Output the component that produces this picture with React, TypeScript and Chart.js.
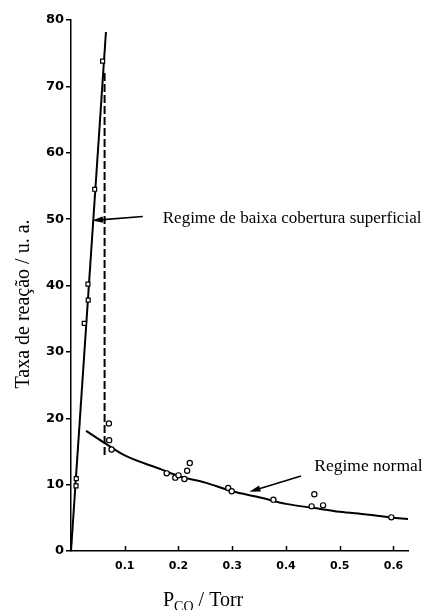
import React, { useEffect, useRef } from 'react';
import { Chart, registerables } from 'chart.js';

Chart.register(...registerables);

// ---- data ----
const xTickValues = [0.1, 0.2, 0.3, 0.4, 0.5, 0.6];
const yTickValues = [0, 10, 20, 30, 40, 50, 60, 70, 80];

// low-coverage regime (squares)
const squareX = [0.0093, 0.0098, 0.0247, 0.032, 0.0315, 0.044, 0.0588];
const squareY = [9.8, 10.9, 34.3, 37.8, 40.2, 54.5, 73.8];

// normal regime (circles)
const circleX = [0.0705, 0.071, 0.0755, 0.178, 0.194, 0.2, 0.211, 0.216, 0.221, 0.2925, 0.299, 0.3766, 0.4477, 0.4527, 0.469, 0.596];
const circleY = [19.2, 16.7, 15.3, 11.7, 11.05, 11.4, 10.85, 12.1, 13.25, 9.5, 9.0, 7.74, 6.73, 8.54, 6.88, 5.07];

// steep line through the squares
const steepX = [0, 0.065];
const steepY = [0, 78.2];

// dashed vertical transition line
const dashedX = [0.0625, 0.0625];
const dashedY = [72, 14.4];

// normal-regime fitted curve
const curveX = [0.028, 0.06, 0.1, 0.168, 0.2, 0.25, 0.3, 0.35, 0.4, 0.45, 0.5, 0.55, 0.6, 0.633];
const curveY = [18.1, 16.4, 14.4, 12.3, 11.3, 10.3, 9.0, 8.1, 7.1, 6.5, 5.9, 5.5, 5.0, 4.77];

// annotations
const labelTexts = ['Regime de baixa cobertura superficial', 'Regime normal'];
const labelX = [0.1707, 0.4527];
const labelY = [49.4, 12.05];
const arrowFromX = [0.1336, 0.428];
const arrowFromY = [50.4, 11.3];
const arrowToX = [0.039, 0.332];
const arrowToY = [49.8, 8.93];

const yTitle = 'Taxa de reação / u. a.';
const xTitleMain = 'P';
const xTitleSub = 'CO';
const xTitleRest = ' / Torr';

const zip = (xs: number[], ys: number[]) => xs.map((x, i) => ({ x, y: ys[i] }));

const SERIF = '"Liberation Serif", "Times New Roman", serif';
const SANS = '"DejaVu Sans", sans-serif';

function drawArrow(ctx: CanvasRenderingContext2D, x1: number, y1: number, x2: number, y2: number) {
  const ang = Math.atan2(y2 - y1, x2 - x1);
  const head = 11;
  const w = 3.2;
  const c = Math.cos(ang);
  const s = Math.sin(ang);
  ctx.beginPath();
  ctx.moveTo(x1, y1);
  ctx.lineTo(x2 - head * 0.7 * c, y2 - head * 0.7 * s);
  ctx.stroke();
  ctx.beginPath();
  ctx.moveTo(x2, y2);
  ctx.lineTo(x2 - head * c + w * s, y2 - head * s - w * c);
  ctx.lineTo(x2 - head * c - w * s, y2 - head * s + w * c);
  ctx.closePath();
  ctx.fill();
}

const overlayPlugin = {
  id: 'overlay',
  afterDraw(chart: any) {
    const { ctx, chartArea } = chart;
    const xs = chart.scales.x;
    const ys = chart.scales.y;
    ctx.save();
    ctx.strokeStyle = '#000';
    ctx.fillStyle = '#000';
    // inward x tick marks
    ctx.lineWidth = 1.5;
    for (const v of xTickValues) {
      const px = Math.round(xs.getPixelForValue(v)) + 0.5;
      ctx.beginPath();
      ctx.moveTo(px, chartArea.bottom);
      ctx.lineTo(px, chartArea.bottom - 5);
      ctx.stroke();
    }
    // arrows
    ctx.lineWidth = 1.6;
    for (let i = 0; i < arrowFromX.length; i++) {
      drawArrow(
        ctx,
        xs.getPixelForValue(arrowFromX[i]),
        ys.getPixelForValue(arrowFromY[i]),
        xs.getPixelForValue(arrowToX[i]),
        ys.getPixelForValue(arrowToY[i])
      );
    }
    // annotation labels
    const labelSizes = [17, 17.5];
    ctx.textAlign = 'left';
    ctx.textBaseline = 'alphabetic';
    for (let i = 0; i < labelTexts.length; i++) {
      ctx.font = `${labelSizes[i]}px ${SERIF}`;
      ctx.fillText(labelTexts[i], xs.getPixelForValue(labelX[i]), ys.getPixelForValue(labelY[i]));
    }
    // y title
    ctx.save();
    ctx.translate(28.5, (chartArea.top + chartArea.bottom) / 2 + 18.5);
    ctx.rotate(-Math.PI / 2);
    ctx.font = `20px ${SERIF}`;
    ctx.textAlign = 'center';
    ctx.fillText(yTitle, 0, 0);
    ctx.restore();
    // x title with subscript
    const baseY = 606;
    let cx = 163;
    ctx.textAlign = 'left';
    ctx.font = `20px ${SERIF}`;
    ctx.fillText(xTitleMain, cx, baseY);
    cx += ctx.measureText(xTitleMain).width;
    ctx.font = `14px ${SERIF}`;
    ctx.fillText(xTitleSub, cx, baseY + 5);
    cx += ctx.measureText(xTitleSub).width;
    ctx.font = `20px ${SERIF}`;
    ctx.fillText(xTitleRest, cx, baseY);
    ctx.restore();
  },
};

export default function App() {
  const ref = useRef<HTMLCanvasElement | null>(null);

  useEffect(() => {
    if (!ref.current) return;
    const markerCommon = {
      showLine: false,
      backgroundColor: '#fff',
      borderColor: '#000',
      borderWidth: 1.2,
      order: 0,
    };
    const lineCommon = {
      showLine: true,
      pointRadius: 0,
      borderColor: '#000',
      fill: false,
      order: 1,
    };
    const chart = new Chart(ref.current, {
      type: 'scatter',
      data: {
        datasets: [
          { ...markerCommon, label: 'squares', data: zip(squareX, squareY), pointStyle: 'rect', pointRadius: 2.8 },
          { ...markerCommon, label: 'circles', data: zip(circleX, circleY), pointStyle: 'circle', pointRadius: 2.6 },
          { ...lineCommon, label: 'steep', data: zip(steepX, steepY), borderWidth: 2 },
          { ...lineCommon, label: 'dashed', data: zip(dashedX, dashedY), borderWidth: 2, borderDash: [8, 3] },
          {
            ...lineCommon,
            label: 'curve',
            data: zip(curveX, curveY),
            borderWidth: 2,
            tension: 0.4,
            cubicInterpolationMode: 'monotone',
          },
        ],
      },
      options: {
        animation: false,
        responsive: false,
        events: [],
        layout: { padding: { top: 20, right: 19, left: 0, bottom: 0 } },
        plugins: { legend: { display: false }, tooltip: { enabled: false } },
        scales: {
          x: {
            type: 'linear',
            min: 0,
            max: 0.627,
            afterBuildTicks: (scale: any) => {
              scale.ticks = xTickValues.map((v) => ({ value: v }));
            },
            afterFit: (scale: any) => {
              scale.height = 59;
            },
            grid: { display: true, drawOnChartArea: false, drawTicks: false },
            border: { display: true, color: '#000', width: 1.5 },
            ticks: {
              color: '#000',
              padding: 9,
              font: { family: SANS, size: 11, weight: 'bold' },
              callback: (v: any) => String(v),
            },
          },
          y: {
            type: 'linear',
            min: 0,
            max: 80,
            afterBuildTicks: (scale: any) => {
              scale.ticks = yTickValues.map((v) => ({ value: v }));
            },
            afterFit: (scale: any) => {
              scale.width = 71;
            },
            grid: { display: true, drawOnChartArea: false, drawTicks: true, tickLength: 5, color: '#000', lineWidth: 1.5 },
            border: { display: true, color: '#000', width: 1.5 },
            ticks: {
              color: '#000',
              padding: 2,
              font: { family: SANS, size: 13, weight: 'bold' },
            },
          },
        },
      },
      plugins: [overlayPlugin],
    } as any);
    return () => chart.destroy();
  }, []);

  return (
    <div style={{ position: 'absolute', left: 0, top: 0, width: 427, height: 610, background: '#fff' }}>
      <canvas ref={ref} width={427} height={610} style={{ display: 'block' }} />
    </div>
  );
}
